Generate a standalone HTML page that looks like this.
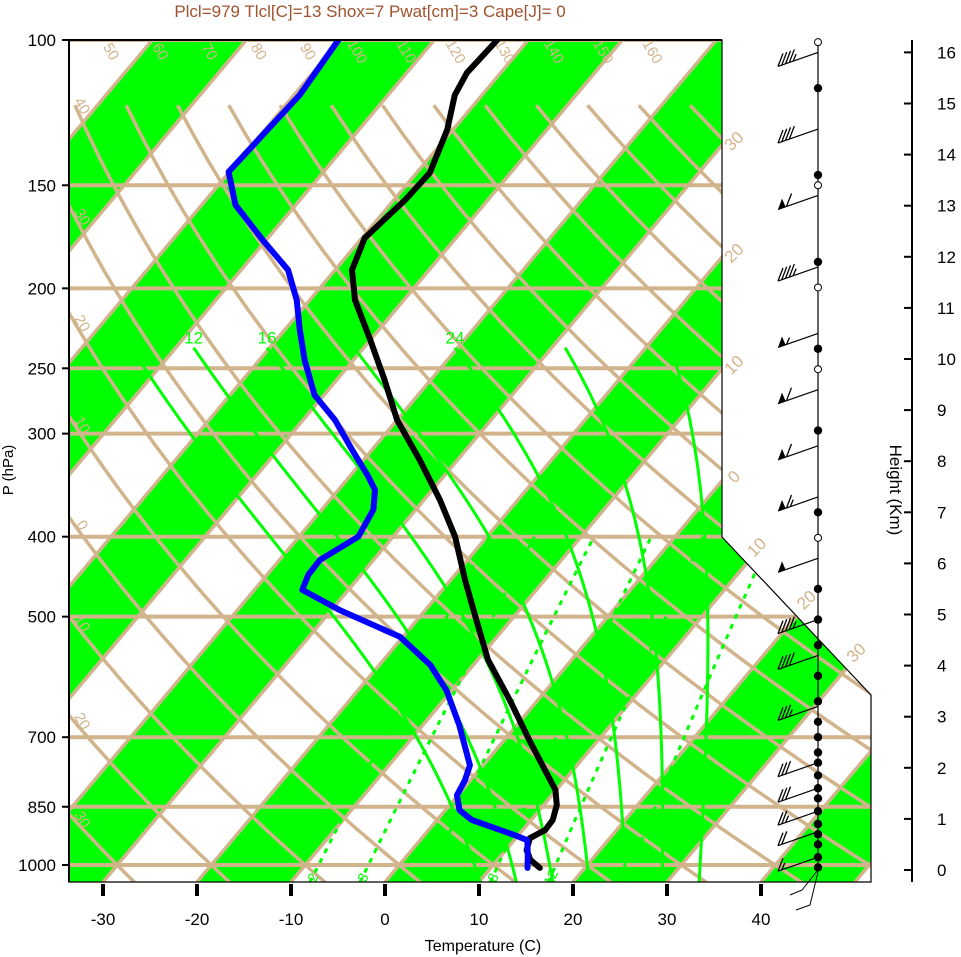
<!DOCTYPE html>
<html><head><meta charset="utf-8"><style>
html,body{margin:0;padding:0;background:#fff;width:961px;height:957px;overflow:hidden}
svg text{font-family:"Liberation Sans",sans-serif}
</style></head><body>
<svg id="chart" width="961" height="957" viewBox="0 0 961 957" xmlns="http://www.w3.org/2000/svg">
<defs><clipPath id="plotclip"><polygon points="69,40 722,40 722,537 871,695 871,882 69,882"/></clipPath></defs>
<text x="370" y="17" text-anchor="middle" font-size="17" fill="#a0522d">Plcl=979 Tlcl[C]=13 Shox=7 Pwat[cm]=3 Cape[J]= 0</text>
<g id="plot" clip-path="url(#plotclip)"></g>
<g id="over"></g>
</svg>
<script>
// ---- data ----
const pressureTicks=[100,150,200,250,300,400,500,700,850,1000];
const tempTicks=[-30,-20,-10,0,10,20,30,40];
const heightTicks=[0,1,2,3,4,5,6,7,8,9,10,11,12,13,14,15,16];
const tempP=[100,109.6,116.6,128.5,144.9,156.3,173.8,190,206.6,231,258.3,288.8,323,361,400,451,500,564,631,706,767,811,846,882,907,928,959,986,1008];
const tempT=[-63.3,-63.6,-62.9,-60.6,-58.6,-58.8,-59.7,-58.2,-55.2,-50.0,-44.9,-40.0,-34.0,-28.3,-23.4,-18.5,-14.1,-8.9,-3.0,2.7,7.0,9.9,11.4,12.3,12.4,11.5,12.2,13.5,15.2];
const dewP=[100,116.6,144.5,158.5,174.7,190,206.6,224.6,244.3,269.4,288.8,314,337,351,371,400,427,445,464,491,529,572,614,677,757,789,823,858,882,920,933,973,1008];
const dewT=[-80.2,-79.4,-80.1,-76.4,-70.4,-65.0,-61.4,-58.4,-55.2,-51.0,-46.6,-42.1,-38.2,-36.1,-34.5,-33.7,-35.7,-35.6,-34.9,-29.1,-20.3,-14.6,-10.6,-6.1,-1.4,-0.6,-0.1,1.5,3.7,9.6,11.4,12.8,13.9];
const mixRatios=[2,3,5,8,12,20];
const moistThetaW=[8,12,16,20,24,28,32];
const moistLabeled=[12,16,24,32];
const dryThetas=[-30,-20,-10,0,10,20,30,40,50,60,70,80,90,100,110,120,130,140,150,160];
const dotHeights=[15.3,13.6,11.9,10.2,8.6,7.0,5.5,4.9,4.4,3.8,3.3,2.9,2.6,2.3,2.1,1.85,1.6,1.4,1.15,0.9,0.7,0.5,0.25,0.05];
const openHeights=[16.2,13.4,11.4,9.8,6.5];
const barbHeights=[16,14.5,13.2,11.8,10.5,9.4,8.3,7.3,6.1,4.9,4.2,3.2,2.1,1.6,1.15,0.75,0.25];
const barbSpeeds=[45,40,60,45,55,60,60,65,50,45,40,35,30,30,25,20,15];
// ---- scales ----
const NS='http://www.w3.org/2000/svg';
function Y(p){return 40+825*Math.log10(p/100);}
function Xy(T,y){return 385+9.4*T+0.84*(882-y);}
function X(T,p){return Xy(T,Y(p));}
function Hy(h){return 870-h*51.1;}
function mk(tag,attrs,parent){const e=document.createElementNS(NS,tag);for(const k in attrs)e.setAttribute(k,attrs[k]);parent.appendChild(e);return e;}
const plot=document.getElementById('plot'),over=document.getElementById('over');
const TAN='#d2b48c',GRN='#00ff00';
// bands
for(let T=-120;T<=60;T+=20){
 const el=mk('polygon',{points:`${Xy(T,882)},882 ${Xy(T+10,882)},882 ${Xy(T+10,40)},40 ${Xy(T,40)},40`,fill:GRN},plot);
 
 
}
// isobars
pressureTicks.forEach(p=>{const el=mk('line',{x1:69,x2:871,y1:Y(p),y2:Y(p),stroke:TAN,'stroke-width':4},plot);
 
 });
// isotherms
for(let T=-120;T<=60;T+=10){const el=mk('line',{x1:Xy(T,882),y1:882,x2:Xy(T,40),y2:40,stroke:TAN,'stroke-width':3.5},plot);
 
 }
// dry adiabats
dryThetas.forEach(th=>{let pts=[];for(let p=1050;p>=112;p-=10){const T=(th+273.15)*Math.pow(p/1000,0.286)-273.15;pts.push(X(T,p).toFixed(1)+','+Y(p).toFixed(1));}
 const el=mk('polyline',{points:pts.join(' '),fill:'none',stroke:TAN,'stroke-width':3.5},plot);
 
 
 let lx,ly;
 if(th>=50){const p=104;const T=(th+273.15)*Math.pow(p/1000,0.286)-273.15;lx=X(T,p)+4;ly=Y(p);}
 else{for(let p=100;p<=1050;p+=1){const T=(th+273.15)*Math.pow(p/1000,0.286)-273.15;if(X(T,p)>=76){lx=78;ly=Y(p);break;}}}
 if(lx!==undefined){const t=mk('text',{x:lx,y:ly,'font-size':15,fill:TAN,'text-anchor':'middle',transform:`rotate(60 ${lx} ${ly})`},plot);t.textContent=Math.abs(th);
 
 }
});
// moist adiabats
function es(Tc){return 6.112*Math.exp(17.67*Tc/(Tc+243.5));}
function dTdp(T,p){const e=es(T-273.15),rs=0.622*e/(p-e);return (287.04*T+2.5e6*rs)/(p*(1005.7+2.5e6*2.5e6*rs/(461.5*T*T)));}
moistThetaW.forEach(tw=>{let pts=[];let T=tw+273.15;let up=[];for(let p=1000;p>=235;p-=2){up.push([p,T]);T-=dTdp(T,p)*2;}
 T=tw+273.15;let dn=[];for(let p=1000;p<=1052;p+=2){dn.push([p,T]);T+=dTdp(T,p)*2;}
 const all=dn.reverse().concat(up);all.forEach(a=>pts.push(X(a[1]-273.15,a[0]).toFixed(1)+','+Y(a[0]).toFixed(1)));
 const el=mk('polyline',{points:pts.join(' '),fill:'none',stroke:GRN,'stroke-width':3},plot);
 
 
 if(moistLabeled.includes(tw)){const last=up[up.length-1];const lx=X(last[1]-273.15,last[0]);const t=mk('text',{x:lx,y:Y(last[0])-4,'font-size':17,fill:GRN,'text-anchor':'middle'},plot);t.textContent=tw;
 
 }
});
// mixing ratio
mixRatios.forEach(w=>{let pts=[];for(let p=1050;p>=400;p-=10){const e=w*p/(622+w),l=Math.log(e/6.112),Td=243.5*l/(17.67-l);pts.push(X(Td,p).toFixed(1)+','+Y(p).toFixed(1));}
 const el=mk('polyline',{points:pts.join(' '),fill:'none',stroke:GRN,'stroke-width':3,'stroke-dasharray':'5,6'},plot);
 
 
 const p=1030,e=w*p/(622+w),l=Math.log(e/6.112),Td=243.5*l/(17.67-l),lx=X(Td,p)+4,ly=Y(p)+4;
 const t=mk('text',{x:lx,y:ly,'font-size':14,fill:GRN,'text-anchor':'middle',transform:`rotate(-65 ${lx} ${ly})`},plot);t.textContent=w;
 
 
});
// soundings
function line(P,T,color,name){const pts=P.map((p,i)=>X(T[i],p).toFixed(1)+','+Y(p).toFixed(1)).join(' ');
 const el=mk('polyline',{points:pts,fill:'none',stroke:color,'stroke-width':6,'stroke-linejoin':'round','stroke-linecap':'round'},plot);
 
 }
line(tempP,tempT,'#000','temperature-profile');
line(dewP,dewT,'#0000ff','dewpoint-profile');
// plot outline
const outl=mk('polygon',{points:'69,40 722,40 722,537 871,695 871,882 69,882',fill:'none',stroke:'#000','stroke-width':1.2},over);


mk('line',{x1:69,x2:722,y1:40,y2:40,stroke:'#000','stroke-width':2},over);
mk('line',{x1:69,x2:69,y1:40,y2:882,stroke:'#000','stroke-width':2},over);
// isotherm labels right
[-30,-20,-10,0,10,20,30].forEach(T=>{let lx,ly;
 if(T<=0){ly=882-(722-385-9.4*T)/0.84;lx=738;}else{ly=(910.3+9.4*T)/1.783;lx=722+0.943*(ly-537)+14;ly-=12;}
 const t=mk('text',{x:lx,y:ly,'font-size':17,fill:TAN,'text-anchor':'middle',transform:`rotate(-45 ${lx} ${ly})`},over);t.textContent=Math.abs(T);
 
 });
// pressure axis
pressureTicks.forEach(p=>{mk('line',{x1:62,x2:69,y1:Y(p),y2:Y(p),stroke:'#000','stroke-width':2},over);
 const t=mk('text',{x:56,y:Y(p)+6,'font-size':17,'text-anchor':'end',fill:'#000'},over);t.textContent=p;
 
 });
const pl=mk('text',{x:13,y:470,'font-size':15,'text-anchor':'middle',transform:'rotate(-90 13 470)'},over);pl.textContent='P (hPa)';


// temperature axis
tempTicks.forEach(T=>{const x=385+9.4*T;mk('line',{x1:x,x2:x,y1:884,y2:896,stroke:'#000','stroke-width':4},over);
 const t=mk('text',{x:x,y:925,'font-size':17,'text-anchor':'middle'},over);t.textContent=T;
 
 });
const tl=mk('text',{x:483,y:951,'font-size':16,'text-anchor':'middle'},over);tl.textContent='Temperature (C)';


// height axis
mk('line',{x1:912,x2:912,y1:40,y2:882,stroke:'#000','stroke-width':2},over);
heightTicks.forEach(h=>{mk('line',{x1:904,x2:912,y1:Hy(h),y2:Hy(h),stroke:'#000','stroke-width':2},over);
 const t=mk('text',{x:937,y:Hy(h)+6,'font-size':17},over);t.textContent=h;
 
 });
const hl=mk('text',{x:890,y:490,'font-size':17,'text-anchor':'middle',transform:'rotate(90 890 490)'},over);hl.textContent='Height (Km)';


// wind column
mk('line',{x1:818,x2:818,y1:40,y2:870,stroke:'#000','stroke-width':1.2},over);
mk('polyline',{points:'818,870 802,890 790,895',fill:'none',stroke:'#000','stroke-width':1},over);
mk('polyline',{points:'818,872 810,905 796,910',fill:'none',stroke:'#000','stroke-width':1},over);
barbHeights.forEach((h,i)=>{const y=Hy(h),g=mk('g',{},over);
 
 
 const ex=778,ey=y+14;mk('line',{x1:818,y1:y,x2:ex,y2:ey,stroke:'#000','stroke-width':1.2},g);
 let s=barbSpeeds[i],pos=0;
 const ux=(818-ex)/Math.hypot(818-ex,ey-y),uy=(y-ey)/Math.hypot(818-ex,ey-y);
 while(s>=50){const bx=ex+ux*pos,by=ey+uy*pos;mk('polygon',{points:`${bx},${by} ${bx+ux*8},${by+uy*8} ${bx+4},${by-11}`,fill:'#000'},g);pos+=9;s-=50;}
 while(s>=10){const bx=ex+ux*pos,by=ey+uy*pos;mk('line',{x1:bx,y1:by,x2:bx+5,y2:by-13,stroke:'#000','stroke-width':1.3},g);pos+=4;s-=10;}
 if(s>=5){const bx=ex+ux*pos,by=ey+uy*pos;mk('line',{x1:bx,y1:by,x2:bx+3,y2:by-7,stroke:'#000','stroke-width':1.3},g);}
});
dotHeights.forEach(h=>{const c=mk('circle',{cx:818,cy:Hy(h),r:4.2,fill:'#000'},over);
 
 });
openHeights.forEach(h=>{const c=mk('circle',{cx:818,cy:Hy(h),r:3.5,fill:'#fff',stroke:'#000','stroke-width':1},over);
 
 });
</script>
</body></html>
